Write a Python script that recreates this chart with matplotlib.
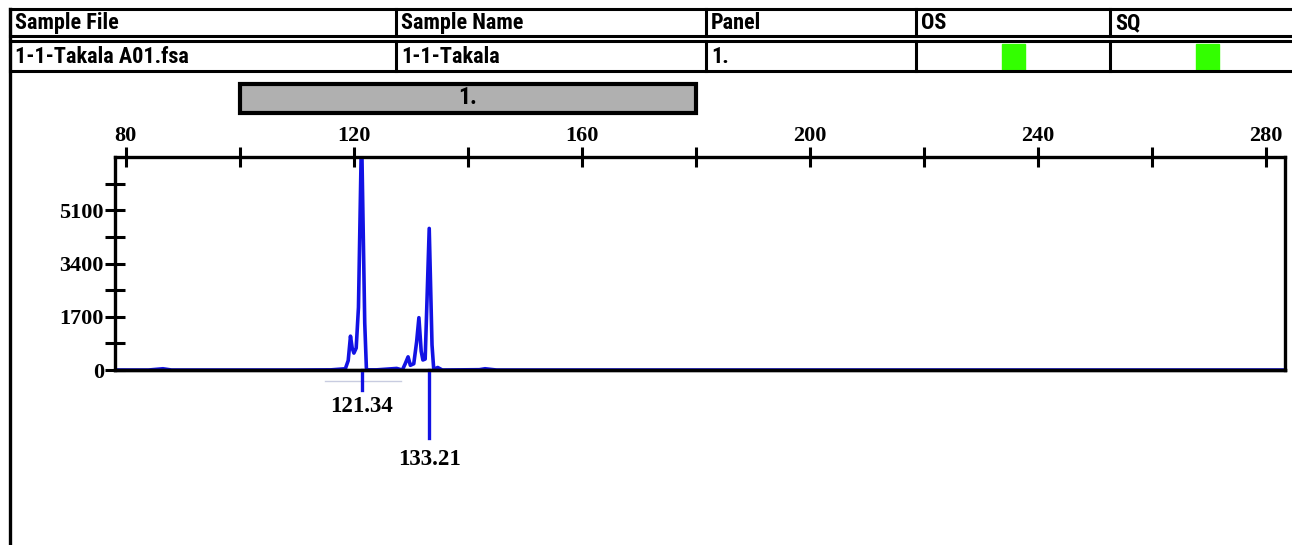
import numpy as np
import matplotlib.pyplot as plt
from matplotlib.patches import Rectangle
from matplotlib import font_manager

# table contents
headers = ["Sample File", "Sample Name", "Panel", "OS", "SQ"]
row = ["1-1-Takala A01.fsa", "1-1-Takala", "1.", "", ""]
panel_name = "1."
panel_range = (100, 180)

# electropherogram trace (size in bp, RFU)
size_bp = [78, 84, 86.5, 88, 100, 110, 116, 118.5, 119.0, 119.4, 119.7, 120.0,
           120.4, 120.8, 121.34, 121.9, 122.2, 124, 127.5, 128.5, 129.0, 129.5,
           129.9, 130.5, 131.0, 131.4, 131.8, 132.1, 132.5, 133.21, 133.7, 134.0,
           134.7, 135.5, 142, 143, 145, 160, 283.5]
rfu = [0, 0, 40, 0, 0, 0, 5, 40, 300, 1080, 700, 540,
       700, 2000, 7600, 1500, 5, 5, 50, 0, 200, 420,
       150, 200, 900, 1670, 600, 320, 350, 4520, 800, 20,
       80, 0, 10, 40, 0, 0, 0]

peak_sizes = [121.34, 133.21]
peak_marks = [-640, -2170]
peak_label_y = [-1180, -2870]

x_major = [80, 120, 160, 200, 240, 280]
y_labels = [0, 1700, 3400, 5100]

# fonts: try to find a condensed sans for the table
fl = font_manager.fontManager.ttflist
names = {f.name for f in fl}
sans_kw = dict(family="Liberation Sans", weight="bold", fontsize=14)
for cand in ["Liberation Sans Narrow", "Roboto Condensed", "Open Sans Condensed",
             "Noto Sans Condensed"]:
    if cand in names:
        sans_kw = dict(family=cand, weight="bold", fontsize=16)
        break
else:
    if any(f.name == "DejaVu Sans" and f.stretch == "condensed" for f in fl):
        sans_kw = dict(family="DejaVu Sans", stretch="condensed", weight="bold",
                       fontsize=14.5)
serif = "Liberation Serif"

W, H = 1292, 545
fig = plt.figure(figsize=(W / 100, H / 100), dpi=100)

# overlay for the table in pixel coords
tab = fig.add_axes([0, 0, 1, 1])
tab.set_xlim(0, W)
tab.set_ylim(H, 0)
tab.axis("off")

col_x = [10, 396, 706, 916, 1110, 1300]
for y in [9, 36, 41, 71]:
    tab.plot([10, W], [y, y], color="black", lw=2.2)
for x in col_x[:-1]:
    tab.plot([x, x], [9, 36], color="black", lw=2.2)
    tab.plot([x, x], [41, 71], color="black", lw=2.2)
tab.plot([10, 10], [9, H], color="black", lw=2.4)

for i, h in enumerate(headers):
    tab.text(col_x[i] + 5, 23, h, va="center", ha="left", **sans_kw)
for i, v in enumerate(row):
    if v:
        tab.text(col_x[i] + 5, 57, v, va="center", ha="left", **sans_kw)
# quality flags
for x0 in [1002, 1196]:
    tab.add_patch(Rectangle((x0, 44), 23, 26, color="#33ff00"))

# main plot
ax = fig.add_axes([115 / W, 1 - 370 / H, (1285 - 115) / W, (370 - 157) / H])
ax.set_zorder(2)
ax.patch.set_alpha(0)
ax.set_xlim(78.1, 283.3)
ax.set_ylim(0, 6800)

ax.plot(size_bp, rfu, color="#1212e4", lw=2.6, zorder=2)
# black baseline on top of the trace
ax.axhline(0, color="black", lw=2.4, zorder=2.8, clip_on=False)

for s, m in zip(peak_sizes, peak_marks):
    ax.plot([s, s], [0, m], color="#1212e4", lw=2.4, clip_on=False, zorder=2.9)
for s, ly in zip(peak_sizes, peak_label_y):
    ax.text(s, ly, f"{s:.2f}", family=serif, weight="bold", fontsize=16.5,
            ha="center", va="center")
ax.plot([115, 128.2], [-350, -350], color="#c8cce0", lw=1, clip_on=False)

for sp in ax.spines.values():
    sp.set_linewidth(2.4)
    sp.set_zorder(3)

ax.xaxis.tick_top()
ax.set_xticks(x_major)
ax.set_xticks(np.arange(100, 281, 40), minor=True)
ax.set_xticklabels([str(v) for v in x_major], family=serif, weight="bold", fontsize=16)
ax.set_yticks(y_labels)
ax.set_yticks(np.arange(850, 6801, 1700), minor=True)
ax.set_yticklabels([str(v) for v in y_labels], family=serif, weight="bold", fontsize=16)
ax.tick_params(which="both", direction="inout", length=14, width=2.2, pad=1)

# panel bar above the plot
fig.canvas.draw()
px0 = ax.transData.transform((panel_range[0], 0))[0]
px1 = ax.transData.transform((panel_range[1], 0))[0]
tab.add_patch(Rectangle((px0, 84), px1 - px0, 29, facecolor="#b0b0b0",
                        edgecolor="black", lw=3))
bar_kw = dict(sans_kw)
bar_kw["fontsize"] = sans_kw["fontsize"] + 1
tab.text((px0 + px1) / 2, 98, panel_name, ha="center", va="center", **bar_kw)

fig.savefig("out.png", dpi=100)
